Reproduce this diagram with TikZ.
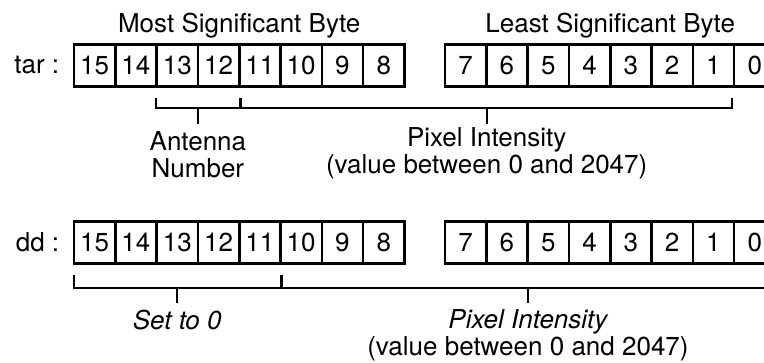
\documentclass[tikz,border=0pt]{standalone}
\usepackage{fontspec}
\setmainfont{TeX Gyre Heros}
\usetikzlibrary{calc, %for the brace midpoints
                positioning}

\begin{document}
\begin{tikzpicture}[%
    x=1pt, y=1pt,
    Bit/.style={draw, line width=2.6pt, minimum width=41.3pt, minimum height=42pt, inner sep=0pt, font=\fontsize{26}{28}\selectfont},
    Brace/.style={line width=2pt},
    Label/.style={align=center, font=\fontsize{26}{27}\selectfont}
    ]
    \useasboundingbox (0,0) rectangle (764,362);

    %tar register
    \foreach \b [count=\i from 0] in {15,14,...,8}
        \node[Bit] (t\b) at ({94.65+\i*41.3}, 296.5) {\b};
    \foreach \b [count=\i from 0] in {7,6,...,0}
        \node[Bit] (t\b) at ({465.65+\i*41.3}, 296.5) {\b};

    %dd register
    \foreach \b [count=\i from 0] in {15,14,...,8}
        \node[Bit] (d\b) at ({94.65+\i*41.3}, 119.5) {\b};
    \foreach \b [count=\i from 0] in {7,6,...,0}
        \node[Bit] (d\b) at ({465.65+\i*41.3}, 119.5) {\b};

    %register names and byte titles
    \node[Label, left=10pt of t15] (tar) {tar :};
    \node[Label, left=10pt of d15] (dd) {dd :};
    \node[Label, anchor=base] (msb) at ($(t15.north west)!.5!(t8.north east)+(0,11)$) {Most Significant Byte};
    \node[Label, anchor=base] (lsb) at ($(t7.north west)!.5!(t0.north east)+(0,11)$) {Least Significant Byte};

    %tar braces
    \draw[Brace] ([shift={(1,-10)}]t13.south west) |- coordinate[pos=.75] (antM) ([shift={(-1,-20)}]t12.south east) -- ++(0,10);
    \draw[Brace] (antM) -- ++(0,-16) coordinate (antS);
    \draw[Brace] ([shift={(3,-10)}]t11.south west) |- coordinate[pos=.75] (tpixM) ([shift={(-3,-20)}]t1.south east) -- ++(0,10);
    \draw[Brace] (tpixM) -- ++(0,-16) coordinate (tpixS);
    \node[Label, below=4pt of antS] (ant) {Antenna\\Number};
    \node[Label, below=0pt of tpixS] (tpix) {Pixel Intensity\\(value between 0 and 2047)};

    %dd braces
    \draw[Brace] ([shift={(1,-10)}]d15.south west) |- coordinate[pos=.75] (zeroM) ([shift={(-1,-23)}]d11.south east) -- ++(0,13);
    \draw[Brace] (zeroM) -- ++(0,-15) coordinate (zeroS);
    \draw[Brace] ([shift={(3,-10)}]d10.south west) |- coordinate[pos=.75] (dpixM) ([shift={(-3,-23)}]d0.south east) -- ++(0,13);
    \draw[Brace] (dpixM) -- ++(0,-15) coordinate (dpixS);
    \node[Label, below=4pt of zeroS] (zero) {\itshape Set to 0};
    \node[Label, below=3pt of dpixS] (dpix) {\itshape Pixel Intensity\\(value between 0 and 2047)};
\end{tikzpicture}
\end{document}
